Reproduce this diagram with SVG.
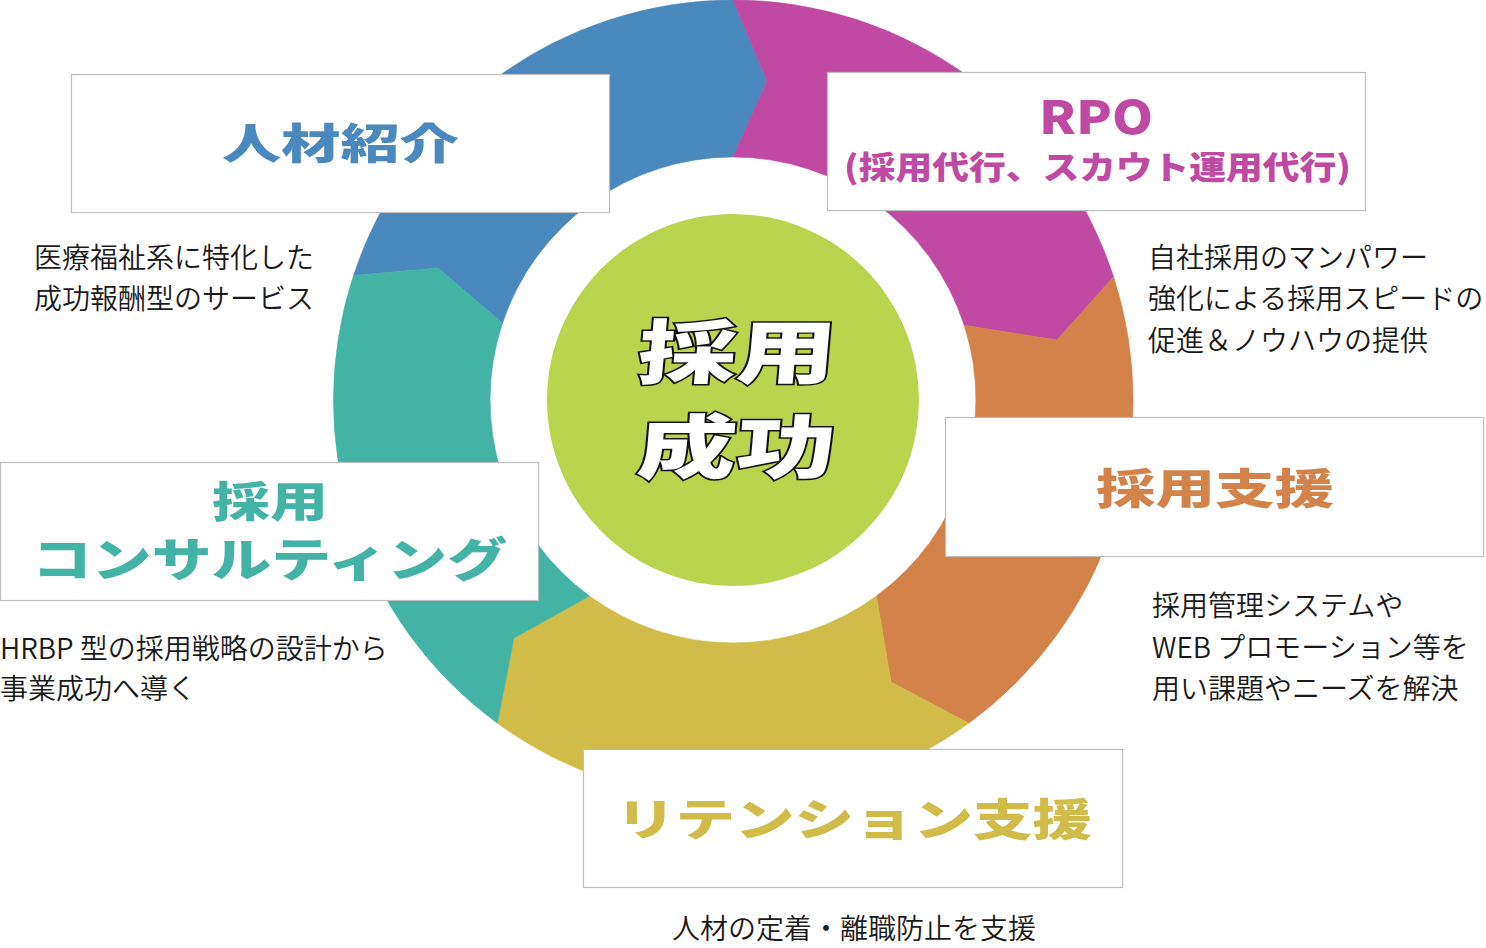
<svg xmlns="http://www.w3.org/2000/svg" width="1486" height="948" viewBox="0 0 1486 948">
<style>
.box{fill:#fff;stroke:#bdbdbd;stroke-width:1.2}
.ttl{font-family:"Noto Sans CJK JP","Noto Sans",sans-serif;font-weight:900}
.desc{font-family:"Noto Sans CJK JP","Noto Sans",sans-serif;font-size:28px;font-weight:350;fill:#1a1a1a}
.ctr{font-family:"Noto Sans CJK JP","Noto Sans",sans-serif;font-weight:900;font-size:70px;fill:#fff;stroke:#111;stroke-width:3;paint-order:stroke;stroke-linejoin:miter}
</style>
<rect width="1486" height="948" fill="#fff"/>
<g id="ring">
<path fill="#4a89bd" stroke="#4a89bd" stroke-width="0.6" d="M353.5,275.5 A400,400 0 0 1 733,0 L767,81 L733,157 A243,243 0 0 0 502.5,323.2 L438,268 Z"/>
<path fill="#c04aa3" stroke="#c04aa3" stroke-width="0.6" d="M733,0 A400,400 0 0 1 1113.6,276.8 L1057,340 L964.2,325.3 A243,243 0 0 0 733,157 L767,81 Z"/>
<path fill="#d3824a" stroke="#d3824a" stroke-width="0.6" d="M1113.6,276.8 A400,400 0 0 1 968.7,723.2 L891,682 L876.4,596.1 A243,243 0 0 0 964.2,325.3 L1057,340 Z"/>
<path fill="#d1bc4a" stroke="#d1bc4a" stroke-width="0.6" d="M968.7,723.2 A400,400 0 0 1 497.3,723.2 L514,638 L589.6,596.1 A243,243 0 0 0 876.4,596.1 L891,682 Z"/>
<path fill="#43b3a6" stroke="#43b3a6" stroke-width="0.6" d="M497.3,723.2 A400,400 0 0 1 353.5,275.5 L438,268 L502.5,323.2 A243,243 0 0 0 589.6,596.1 L514,638 Z"/>
</g>
<g id="center">
<circle cx="733" cy="400" r="186" fill="#bad44e"/>
<g transform="translate(733,400) skewX(-5)">
<text class="ctr" x="-99" y="-22" textLength="198" lengthAdjust="spacingAndGlyphs">採用</text>
<text class="ctr" x="-91" y="73" textLength="198" lengthAdjust="spacingAndGlyphs">成功</text>
</g>
</g>
<g id="node-jinzai">
<rect class="box" x="71.5" y="74.5" width="538" height="138"/>
<text class="ttl" x="222" y="159" font-size="42" fill="#4a89bd" textLength="237" lengthAdjust="spacingAndGlyphs">人材紹介</text>
<text class="desc" x="34" y="267.5">医療福祉系に特化した</text>
<text class="desc" x="34" y="308.5">成功報酬型のサービス</text>
</g>
<g id="node-rpo">
<rect class="box" x="827.5" y="72.5" width="538" height="138"/>
<text class="ttl" x="1039" y="134" font-size="46" fill="#c04aa3" textLength="114" lengthAdjust="spacingAndGlyphs">RPO</text>
<text class="ttl" x="844" y="179" font-size="32" fill="#c04aa3" textLength="507" lengthAdjust="spacingAndGlyphs">(採用代行、スカウト運用代行)</text>
<text class="desc" x="1148" y="267.5">自社採用のマンパワー</text>
<text class="desc" x="1148" y="308.5">強化による採用スピードの</text>
<text class="desc" x="1148" y="350.5">促進＆ノウハウの提供</text>
</g>
<g id="node-shien">
<rect class="box" x="945.5" y="417.5" width="538" height="139"/>
<text class="ttl" x="1096" y="504" font-size="42" fill="#d3824a" textLength="238" lengthAdjust="spacingAndGlyphs">採用支援</text>
<text class="desc" x="1152" y="615.5">採用管理システムや</text>
<text class="desc" x="1152" y="657.5">WEB プロモーション等を</text>
<text class="desc" x="1152" y="698.5">用い課題やニーズを解決</text>
</g>
<g id="node-consulting">
<rect class="box" x="0.5" y="462.5" width="538" height="138"/>
<text class="ttl" x="212" y="517" font-size="42" fill="#43b3a6" textLength="116" lengthAdjust="spacingAndGlyphs">採用</text>
<text class="ttl" x="32" y="576" font-size="46" fill="#43b3a6" textLength="475" lengthAdjust="spacingAndGlyphs">コンサルティング</text>
<text class="desc" x="0" y="658.5">HRBP 型の採用戦略の設計から</text>
<text class="desc" x="0" y="698.5">事業成功へ導く</text>
</g>
<g id="node-retention">
<rect class="box" x="583.5" y="749.5" width="539" height="138"/>
<text class="ttl" x="616" y="836" font-size="44" fill="#d1bc4a" textLength="476" lengthAdjust="spacingAndGlyphs">リテンション支援</text>
<text class="desc" x="672" y="938.5">人材の定着・離職防止を支援</text>
</g>
</svg>
